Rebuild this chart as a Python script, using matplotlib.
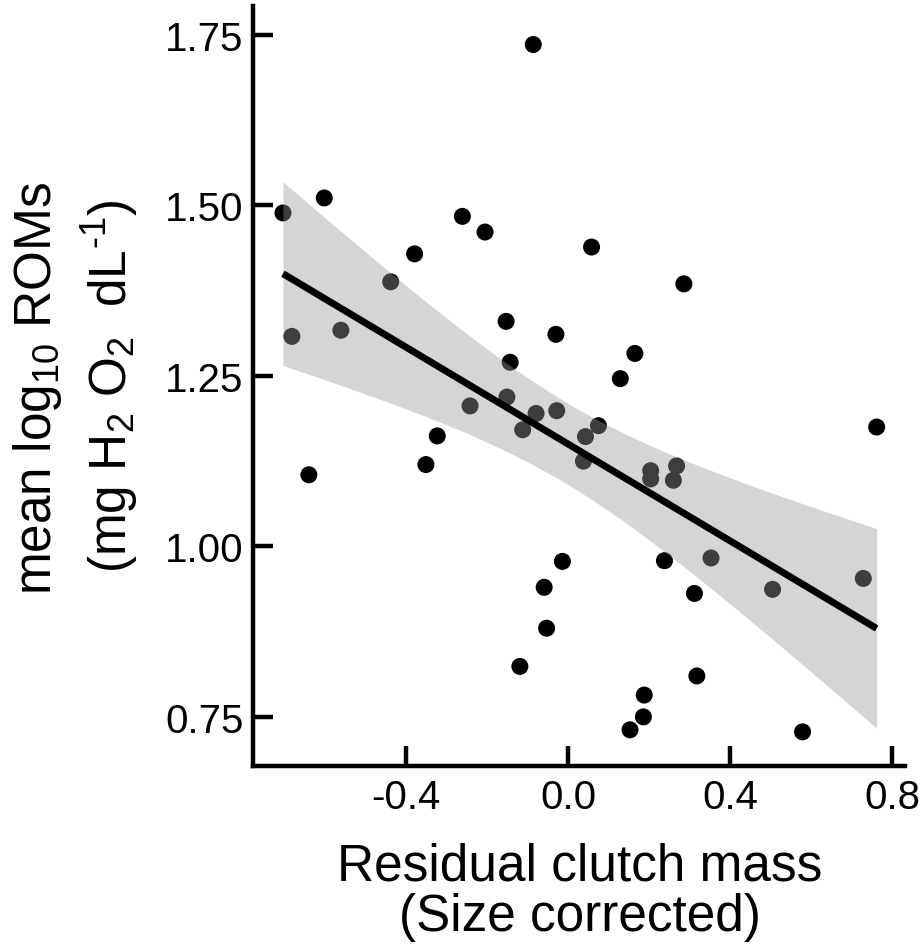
import numpy as np
import matplotlib
matplotlib.use("Agg")
import matplotlib.pyplot as plt

plt.rcParams['font.family'] = ['Liberation Sans', 'DejaVu Sans']
plt.rcParams['mathtext.fontset'] = 'custom'
plt.rcParams['mathtext.rm'] = 'Liberation Sans'
plt.rcParams['mathtext.it'] = 'Liberation Sans:italic'

# residual clutch mass vs mean log10 ROMs
clutch_mass = [-0.704, -0.602, -0.682, -0.561, -0.438, -0.379, -0.261, -0.205,
               -0.086, -0.153, -0.143, -0.030, -0.151, -0.640, -0.323, -0.351,
               -0.242, -0.079, -0.112, -0.028, -0.014, -0.059, -0.053, -0.119,
               0.058, 0.286, 0.165, 0.129, 0.075, 0.043, 0.038, 0.204,
               0.204, 0.268, 0.260, 0.762, 0.238, 0.353, 0.729, 0.505,
               0.312, 0.318, 0.188, 0.186, 0.153, 0.579]
roms = [1.489, 1.511, 1.308, 1.317, 1.388, 1.429, 1.484, 1.461,
        1.736, 1.330, 1.270, 1.311, 1.219, 1.105, 1.162, 1.120,
        1.206, 1.195, 1.171, 1.199, 0.978, 0.940, 0.880, 0.824,
        1.439, 1.385, 1.283, 1.246, 1.177, 1.161, 1.125, 1.111,
        1.099, 1.118, 1.097, 1.175, 0.979, 0.983, 0.953, 0.937,
        0.931, 0.810, 0.782, 0.750, 0.731, 0.728]

x_ticks = [-0.4, 0.0, 0.4, 0.8]
x_ticklabels = ['-0.4', '0.0', '0.4', '0.8']
y_ticks = [0.75, 1.00, 1.25, 1.50, 1.75]
y_ticklabels = ['0.75', '1.00', '1.25', '1.50', '1.75']

x = np.array(clutch_mass)
y = np.array(roms)

# linear fit + 95% confidence band
n = len(x)
slope, intercept = np.polyfit(x, y, 1)
resid = y - (slope * x + intercept)
s = np.sqrt(np.sum(resid ** 2) / (n - 2))
sxx = np.sum((x - x.mean()) ** 2)
t_crit = 2.015
xs = np.linspace(x.min(), x.max(), 80)
fit = slope * xs + intercept
half = t_crit * s * np.sqrt(1 / n + (xs - x.mean()) ** 2 / sxx)

fig = plt.figure(figsize=(9.23, 9.45), dpi=100)
ax = fig.add_axes([0.2741, 0.1884, 0.7064, 0.8042])

ax.scatter(x, y, s=150, color='black', edgecolor='none', zorder=2)
ax.fill_between(xs, fit - half, fit + half, color=(0.6, 0.6, 0.6), alpha=0.41,
                linewidth=0, zorder=3)
ax.plot(xs, fit, color='black', linewidth=5, solid_capstyle='butt', zorder=4)

ax.set_xlim(-0.778, 0.832)
ax.set_ylim(0.678, 1.7925)
ax.set_xticks(x_ticks)
ax.set_xticklabels(x_ticklabels)
ax.set_yticks(y_ticks)
ax.set_yticklabels(y_ticklabels)

for side in ['top', 'right']:
    ax.spines[side].set_visible(False)
for side in ['left', 'bottom']:
    ax.spines[side].set_linewidth(3.2)
ax.tick_params(axis='both', direction='in', length=14.4, width=3.2,
               labelsize=29)
ax.tick_params(axis='y', pad=7)
ax.tick_params(axis='x', pad=9)

# axis titles
fig.text(580 / 923, 1 - 867 / 945, 'Residual clutch mass', ha='center',
         va='center', fontsize=37)
fig.text(580 / 923, 1 - 918 / 945, '(Size corrected)', ha='center',
         va='center', fontsize=37)
fig.text(38 / 923, 1 - 388 / 945, r'mean log$\mathregular{_{10}}$ ROMs',
         rotation=90, ha='center', va='center', fontsize=37)
fig.text(110 / 923, 1 - 386 / 945,
         '(mg H$\\mathregular{_2}$ O$\\mathregular{_2}$  dL$\\mathregular{^{\u2010 1}}$)',
         rotation=90, ha='center', va='center', fontsize=37)

fig.savefig('out.png', dpi=100)
